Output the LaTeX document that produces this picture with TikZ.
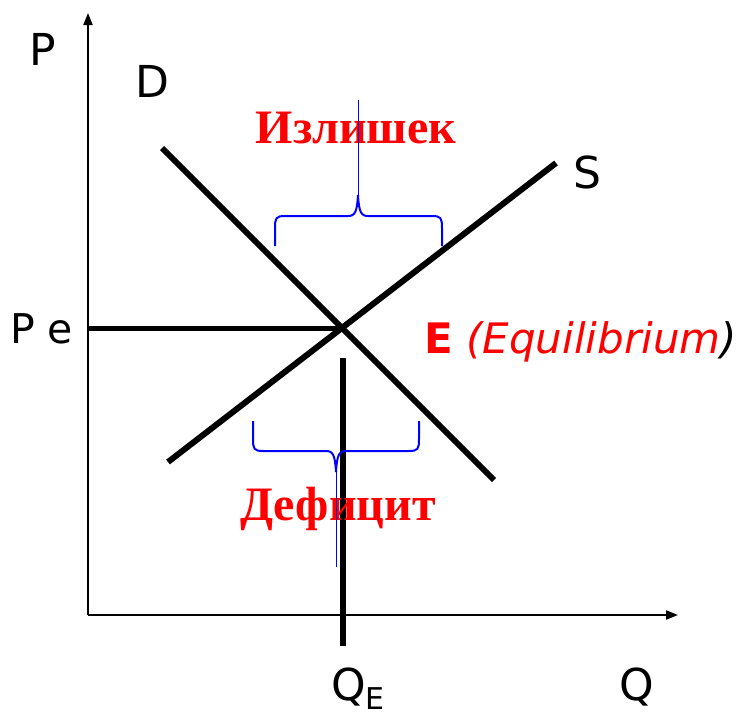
\documentclass[tikz,border=0pt]{standalone}
\usepackage{fontspec}
\setmainfont{DejaVu Sans}
\newfontfamily\tnr{Liberation Serif}
\usetikzlibrary{arrows.meta}
\begin{document}
\begin{tikzpicture}[x=1pt,y=-1pt,
  axis/.style={line width=2pt,-{Triangle[length=12pt,width=9pt]}},
  curve/.style={line width=6pt},
  guide/.style={line width=5pt},
  brace/.style={draw=blue,line width=2pt},
  bracetip/.style={draw=blue,line width=0.9pt},
  lbl/.style={inner sep=0pt,anchor=base west,font=\fontsize{44}{50}\selectfont},
  ru/.style={inner sep=0pt,anchor=base,text=red,font=\tnr\bfseries\fontsize{48}{54}\selectfont}]
\useasboundingbox (0,0) rectangle (744,718);
\fill[white] (0,0) rectangle (744,718);
% axes
\coordinate (O) at (88,615);
\coordinate (Ytop) at (88,13);
\coordinate (Xend) at (678,615);
\draw[axis] (O) -- (Ytop);
\draw[axis] (O) -- (Xend);
% curves
\coordinate (D1) at (162,148);
\coordinate (D2) at (494,480);
\coordinate (S1) at (168,462);
\coordinate (S2) at (556,163);
\coordinate (E) at (343,328);
\coordinate (PeL) at (88,328);
\coordinate (QeT) at (343,358);
\coordinate (QeB) at (343,646);
\draw[curve] (D1) -- (D2);
\draw[curve] (S1) -- (S2);
\draw[guide] (PeL) -- (E);
\draw[curve] (QeT) -- (QeB);
% labels
\node[lbl] (P) at (29,65) {P};
\node[lbl] (Dl) at (135,97) {D};
\node[lbl] (Sl) at (573,188) {S};
\node[lbl,font=\fontsize{41}{48}\selectfont] (Pe) at (10,343) {P e};
\node[lbl,font=\fontsize{42}{48}\selectfont] (Eq) at (424,353) {\textcolor{red}{\textbf{E} \textit{(Equilibrium}}\textit{)}};
\node[lbl] (Qe) at (331,700) {Q\raisebox{-0.4ex}{\fontsize{30}{34}\selectfont E}};
\node[lbl] (Q) at (619,700) {Q};
\node[ru] (izl) at (356,143) {Излишек};
\node[ru] (def) at (338,520) {Дефицит};
% braces
\coordinate (TL) at (275,246);
\coordinate (TR) at (442,246);
\coordinate (TM) at (358,195);
\coordinate (TT) at (358,100);
\draw[brace] (TL) -- (275,228) .. controls (275,218) and (276,216) .. (285,216) -- (348,216) .. controls (355,216) and (357,212) .. (TM);
\draw[brace] (TR) -- (442,228) .. controls (442,218) and (441,216) .. (432,216) -- (368,216) .. controls (361,216) and (359,212) .. (TM);
\draw[bracetip] (TM) -- (TT);
\coordinate (BL) at (253,421);
\coordinate (BR) at (419,421);
\coordinate (BM) at (336,472);
\coordinate (BB) at (336,567);
\draw[brace] (BL) -- (253,439) .. controls (253,449) and (254,451) .. (263,451) -- (326,451) .. controls (333,451) and (335,455) .. (BM);
\draw[brace] (BR) -- (419,439) .. controls (419,449) and (418,451) .. (409,451) -- (346,451) .. controls (339,451) and (337,455) .. (BM);
\draw[bracetip] (BM) -- (BB);
\end{tikzpicture}
\end{document}
